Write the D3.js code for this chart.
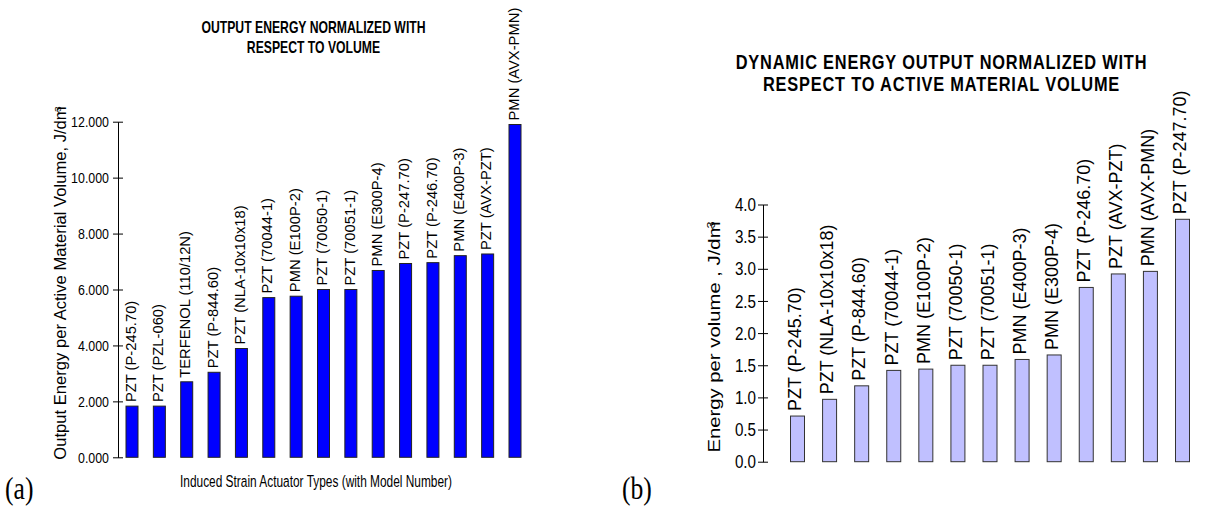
<!DOCTYPE html>
<html><head><meta charset="utf-8">
<script src="https://cdn.jsdelivr.net/npm/d3@7"></script>
<style>
body{margin:0;background:#fff;}
svg{display:block;font-family:"Liberation Sans",Arial,sans-serif;}
</style></head><body>
<svg id="chart" width="1222" height="509"></svg>
<script>
// ---- data ----
const catsA = ["PZT (P-245.70)","PZT (PZL-060)","TERFENOL (110/12N)","PZT (P-844.60)","PZT (NLA-10x10x18)","PZT (70044-1)","PMN (E100P-2)","PZT (70050-1)","PZT (70051-1)","PMN (E300P-4)","PZT (P-247.70)","PZT (P-246.70)","PMN (E400P-3)","PZT (AVX-PZT)","PMN (AVX-PMN)"];
const valsA = [1.83,1.83,2.70,3.04,3.89,5.71,5.76,6.00,6.00,6.68,6.93,6.96,7.21,7.27,11.90];
const ticksA = [0,2,4,6,8,10,12];
const titleA = ["OUTPUT ENERGY NORMALIZED WITH","RESPECT TO VOLUME"];
const yLabelA = "Output Energy per Active Material Volume, J/dm";
const xLabelA = "Induced Strain Actuator Types (with Model Number)";

const catsB = ["PZT (P-245.70)","PZT (NLA-10x10x18)","PZT (P-844.60)","PZT (70044-1)","PMN (E100P-2)","PZT (70050-1)","PZT (70051-1)","PMN (E400P-3)","PMN (E300P-4)","PZT (P-246.70)","PZT (AVX-PZT)","PMN (AVX-PMN)","PZT (P-247.70)"];
const valsB = [0.71,0.97,1.18,1.42,1.44,1.50,1.50,1.59,1.66,2.71,2.92,2.96,3.77];
const ticksB = [0,0.5,1,1.5,2,2.5,3,3.5,4];
const titleB = ["DYNAMIC ENERGY OUTPUT NORMALIZED WITH","RESPECT TO ACTIVE MATERIAL VOLUME"];
const yLabelB = "Energy per volume , J/dm";

const svg = d3.select("#chart");

function panel(o){
  const g = svg.append("g");
  const y = d3.scaleLinear().domain(o.domain).range(o.yRange);
  const x = d3.scalePoint().domain(o.cats).range(o.xRange);
  // axis
  const ax = g.append("g").attr("transform",`translate(${o.axisX},0)`)
    .call(d3.axisLeft(y).tickValues(o.ticks).tickFormat(d3.format(o.fmt)).tickSize(o.tick).tickSizeOuter(0));
  ax.select(".domain").attr("stroke","#000");
  ax.selectAll(".tick line").attr("x1",o.tick).attr("stroke","#000");
  ax.selectAll(".tick text").attr("x",0)
    .attr("transform",`translate(${-o.tick-o.tickPad},0) scale(${o.tickSq},1)`)
    .attr("font-size",o.tickFont+"px")
    .attr("font-family",'"Liberation Sans",Arial,sans-serif').attr("fill","#000");
  // bars
  g.selectAll("rect.bar").data(o.vals).join("rect").attr("class","bar")
    .attr("x",(d,i)=>x(o.cats[i])-o.barW/2).attr("width",o.barW)
    .attr("y",d=>y(d)).attr("height",d=>y(0)-y(d))
    .attr("fill",o.fill).attr("stroke",o.stroke).attr("stroke-width",1);
  // bar labels
  g.selectAll("text.blab").data(o.vals).join("text").attr("class","blab")
    .attr("transform",(d,i)=>`translate(${x(o.cats[i])+o.labDx},${y(d)-o.labGap}) rotate(-90)`)
    .attr("font-size",o.labFont+"px").attr("fill","#000")
    .text((d,i)=>o.cats[i]);
  // title
  const t = g.append("text").attr("text-anchor","middle").attr("font-weight","bold")
    .attr("transform",`translate(${o.titleX},0) scale(${o.titleSq},1)`)
    .attr("font-size",o.titleFont+"px").attr("letter-spacing",o.titleLS+"px").attr("fill","#000");
  o.title.forEach((s,i)=>t.append("tspan").attr("x",0).attr("y",o.titleY[i]).text(s));
  // y label
  const yl = g.append("text").attr("text-anchor","middle").attr("font-size",o.yLabFont+"px").attr("fill","#000")
    .attr("transform",`translate(${o.yLabX},${o.yLabY}) scale(${o.yLabSq},1) rotate(-90)`);
  yl.append("tspan").text(o.yLabel);
  yl.append("tspan").attr("dx","-0.55em").attr("dy","-0.5em").attr("font-size",(o.yLabFont*0.62)+"px").text("3");
  return g;
}

panel({domain:[0,12], yRange:[457.3,121.7], cats:catsA, vals:valsA, ticks:ticksA, fmt:".3f",
  xRange:[132,515], axisX:118, tick:5, tickPad:4, tickFont:15.5, tickSq:0.8, barW:12, fill:"#0000ff", stroke:"#222",
  labDx:3.7, labGap:4, labFont:14.75, title:titleA, titleX:313.5, titleY:[33,53], titleFont:16.5, titleSq:0.74, titleLS:0,
  yLabel:yLabelA, yLabX:66, yLabY:283, yLabFont:16.6, yLabSq:0.95});

panel({domain:[0,4], yRange:[461.7,204.5], cats:catsB, vals:valsB, ticks:ticksB, fmt:".1f",
  xRange:[797.5,1182.5], axisX:763, tick:5, tickPad:2, tickFont:19, tickSq:0.8, barW:14, fill:"#c0c0ff", stroke:"#333",
  labDx:3.8, labGap:5, labFont:18, title:titleB, titleX:941.5, titleY:[69,91], titleFont:20, titleSq:0.818, titleLS:1,
  yLabel:yLabelB, yLabX:720, yLabY:337, yLabFont:20.3, yLabSq:0.85});

// x label for (a)
svg.append("text").attr("transform","translate(316,487) scale(0.7,1)").attr("text-anchor","middle")
  .attr("font-size","17px").attr("fill","#000").text(xLabelA);
// panel tags
svg.append("text").attr("transform","translate(5,499) scale(0.8,1)").attr("font-family",'"Liberation Serif","Times New Roman",serif').attr("font-size","32px").attr("fill","#000").text("(a)");
svg.append("text").attr("transform","translate(622,499) scale(0.8,1)").attr("font-family",'"Liberation Serif","Times New Roman",serif').attr("font-size","32px").attr("fill","#000").text("(b)");
</script>
</body></html>
